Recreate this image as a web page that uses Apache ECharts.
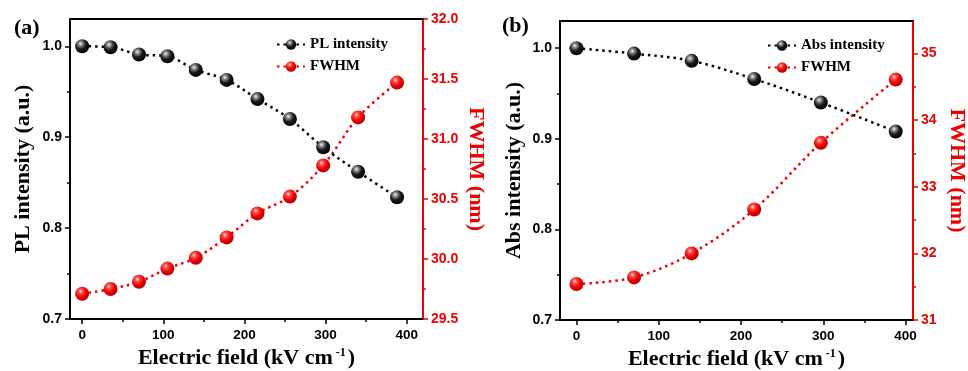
<!DOCTYPE html>
<html>
<head>
<meta charset="utf-8">
<script src="https://cdn.jsdelivr.net/npm/echarts@6/dist/echarts.min.js"></script>
<style>
  html, body { margin: 0; padding: 0; background: #fff; }
  #chart { width: 968px; height: 371px; }
</style>
</head>
<body>
<div id="chart"></div>
<script>
// data
var fieldA = [0, 35, 70, 105, 140, 178, 216, 256, 297, 340, 388];
var plIntensity = [1.0, 0.999, 0.991, 0.989, 0.974, 0.963, 0.942, 0.920, 0.889, 0.862, 0.834];
var fwhmA = [29.71, 29.75, 29.81, 29.92, 30.01, 30.18, 30.38, 30.52, 30.78, 31.18, 31.47];

var fieldB = [0, 70, 140, 216, 297, 388];
var absIntensity = [1.0, 0.994, 0.986, 0.966, 0.940, 0.908];
var fwhmB = [31.54, 31.64, 32.00, 32.66, 33.66, 34.61];

var xTicks = [0, 100, 200, 300, 400];
var xMinor = [50, 150, 250, 350];
var yLeftTicks = [0.7, 0.8, 0.9, 1.0];
var yLeftMinor = [0.75, 0.85, 0.95];
var yRightTicksA = [29.5, 30.0, 30.5, 31.0, 31.5, 32.0];
var yRightMinorA = [29.75, 30.25, 30.75, 31.25, 31.75];
var yRightTicksB = [31, 32, 33, 34, 35];
var yRightMinorB = [31.5, 32.5, 33.5, 34.5];

var RED = '#ee0000';
var SERIF = '"Liberation Serif", "Times New Roman", serif';
var SANS = '"Liberation Sans", Arial, sans-serif';

var chart = echarts.init(document.getElementById('chart'));

function ball(dark) {
  if (dark) {
    return new echarts.graphic.RadialGradient(0.38, 0.32, 0.7, [
      {offset: 0, color: '#f2f2f2'},
      {offset: 0.22, color: '#8a8a8a'},
      {offset: 0.55, color: '#1a1a1a'},
      {offset: 1, color: '#000'}
    ]);
  }
  return new echarts.graphic.RadialGradient(0.38, 0.32, 0.7, [
    {offset: 0, color: '#ffe0e0'},
    {offset: 0.22, color: '#ff5050'},
    {offset: 0.6, color: '#ee0000'},
    {offset: 1, color: '#b00000'}
  ]);
}

// main x axis (labels + major ticks + name)
function xMain(grid, min, max) {
  return {
    type: 'value', gridIndex: grid, min: min, max: max, position: 'bottom',
    name: 'Electric field (kV cm{sup|-1})',
    nameLocation: 'middle', nameGap: 27,
    nameTextStyle: {
      color: '#000', fontFamily: SERIF, fontWeight: 'bold', fontSize: 22,
      rich: {sup: {fontFamily: SERIF, fontWeight: 'bold', fontSize: 12, verticalAlign: 'top', padding: [0, 2, 10, 3]}}
    },
    axisLine: {onZero: false, lineStyle: {color: '#000', width: 2}},
    axisTick: {show: true, inside: false, length: 5, lineStyle: {width: 1.5}, customValues: xTicks},
    axisLabel: {
      customValues: xTicks, margin: 9, color: '#000',
      fontFamily: SANS, fontWeight: 'bold', fontSize: 13.5
    },
    splitLine: {show: false}
  };
}
function xMinorAxis(grid, min, max) {
  return {
    type: 'value', gridIndex: grid, min: min, max: max, position: 'bottom',
    axisLine: {show: false, onZero: false},
    axisTick: {show: true, length: 3, lineStyle: {color: '#000', width: 1.5}, customValues: xMinor},
    axisLabel: {show: false}, splitLine: {show: false}
  };
}
function xTop(grid, min, max) {
  return {
    type: 'value', gridIndex: grid, min: min, max: max, position: 'top',
    axisLine: {onZero: false, lineStyle: {color: '#000', width: 2}},
    axisTick: {show: false}, axisLabel: {show: false}, splitLine: {show: false}
  };
}
function yAxisMain(grid, side, min, max, ticks, color, name, gap, digits, rot) {
  return {
    type: 'value', gridIndex: grid, position: side, min: min, max: max,
    name: name, nameLocation: 'middle', nameGap: gap, nameRotate: rot,
    nameTextStyle: {color: color, fontFamily: SERIF, fontWeight: 'bold', fontSize: 22},
    axisLine: {show: true, onZero: false, lineStyle: {color: color, width: 2}},
    axisTick: {show: true, length: 5, lineStyle: {color: color, width: 1.5}, customValues: ticks},
    axisLabel: {
      customValues: ticks, margin: 8, color: color,
      fontFamily: SANS, fontWeight: 'bold', fontSize: 14,
      formatter: function (v) { return v.toFixed(digits); }
    },
    splitLine: {show: false}
  };
}
function yMinorAxis(grid, side, min, max, ticks, color) {
  return {
    type: 'value', gridIndex: grid, position: side, min: min, max: max,
    axisLine: {show: false, onZero: false},
    axisTick: {show: true, length: 3, lineStyle: {color: color, width: 1.5}, customValues: ticks},
    axisLabel: {show: false}, splitLine: {show: false}
  };
}

function lineSeries(name, xi, yi, xs, ys, dark) {
  var c = dark ? '#000' : RED;
  return {
    name: name, type: 'line', xAxisIndex: xi, yAxisIndex: yi,
    data: ys.map(function (v, i) { return [xs[i], v]; }),
    smooth: 0.35,
    symbol: 'circle', symbolSize: 14,
    lineStyle: {color: c, width: 2.5, type: [2.5, 4]},
    itemStyle: {color: ball(dark), borderWidth: 0},
    z: dark ? 3 : 2
  };
}

var option = {
  backgroundColor: '#fff',
  animation: false,
  title: [
    {text: '(a)', left: 9, top: 12, textStyle: {fontFamily: SERIF, fontWeight: 'bold', fontSize: 22, color: '#000'}},
    {text: '(b)', left: 497, top: 10, textStyle: {fontFamily: SERIF, fontWeight: 'bold', fontSize: 22, color: '#000'}}
  ],
  grid: [
    {left: 70, right: 545, top: 19, bottom: 52, containLabel: false, outerBoundsMode: 'none'},
    {left: 560, right: 55, top: 21, bottom: 51, containLabel: false, outerBoundsMode: 'none'}
  ],
  legend: [
    {
      data: ['PL intensity', 'FWHM'], orient: 'vertical', left: 271, top: 32,
      itemWidth: 28, itemHeight: 13, itemGap: 7,
      textStyle: {fontFamily: SERIF, fontWeight: 'bold', fontSize: 15, color: '#000'}
    },
    {
      data: ['Abs intensity', 'FWHM '], orient: 'vertical', left: 762, top: 33,
      itemWidth: 28, itemHeight: 13, itemGap: 7,
      textStyle: {fontFamily: SERIF, fontWeight: 'bold', fontSize: 15, color: '#000'}
    }
  ],
  xAxis: [
    xMain(0, -15, 420), xMinorAxis(0, -15, 420), xTop(0, -15, 420),
    xMain(1, -20, 409), xMinorAxis(1, -20, 409), xTop(1, -20, 409)
  ],
  yAxis: [
    yAxisMain(0, 'left', 0.7, 1.03, yLeftTicks, '#000', 'PL intensity (a.u.)', 36, 1, 90),
    yMinorAxis(0, 'left', 0.7, 1.03, yLeftMinor, '#000'),
    yAxisMain(0, 'right', 29.5, 32.0, yRightTicksA, RED, 'FWHM (nm)', 42, 1, -90),
    yMinorAxis(0, 'right', 29.5, 32.0, yRightMinorA, RED),
    yAxisMain(1, 'left', 0.7, 1.03, yLeftTicks, '#000', 'Abs intensity (a.u.)', 35, 1, 90),
    yMinorAxis(1, 'left', 0.7, 1.03, yLeftMinor, '#000'),
    yAxisMain(1, 'right', 31, 35.49, yRightTicksB, RED, 'FWHM (nm)', 33, 0, -90),
    yMinorAxis(1, 'right', 31, 35.49, yRightMinorB, RED)
  ],
  series: [
    lineSeries('PL intensity', 0, 0, fieldA, plIntensity, true),
    lineSeries('FWHM', 0, 2, fieldA, fwhmA, false),
    lineSeries('Abs intensity', 3, 4, fieldB, absIntensity, true),
    lineSeries('FWHM ', 3, 6, fieldB, fwhmB, false)
  ]
};

chart.setOption(option);
</script>
</body>
</html>
